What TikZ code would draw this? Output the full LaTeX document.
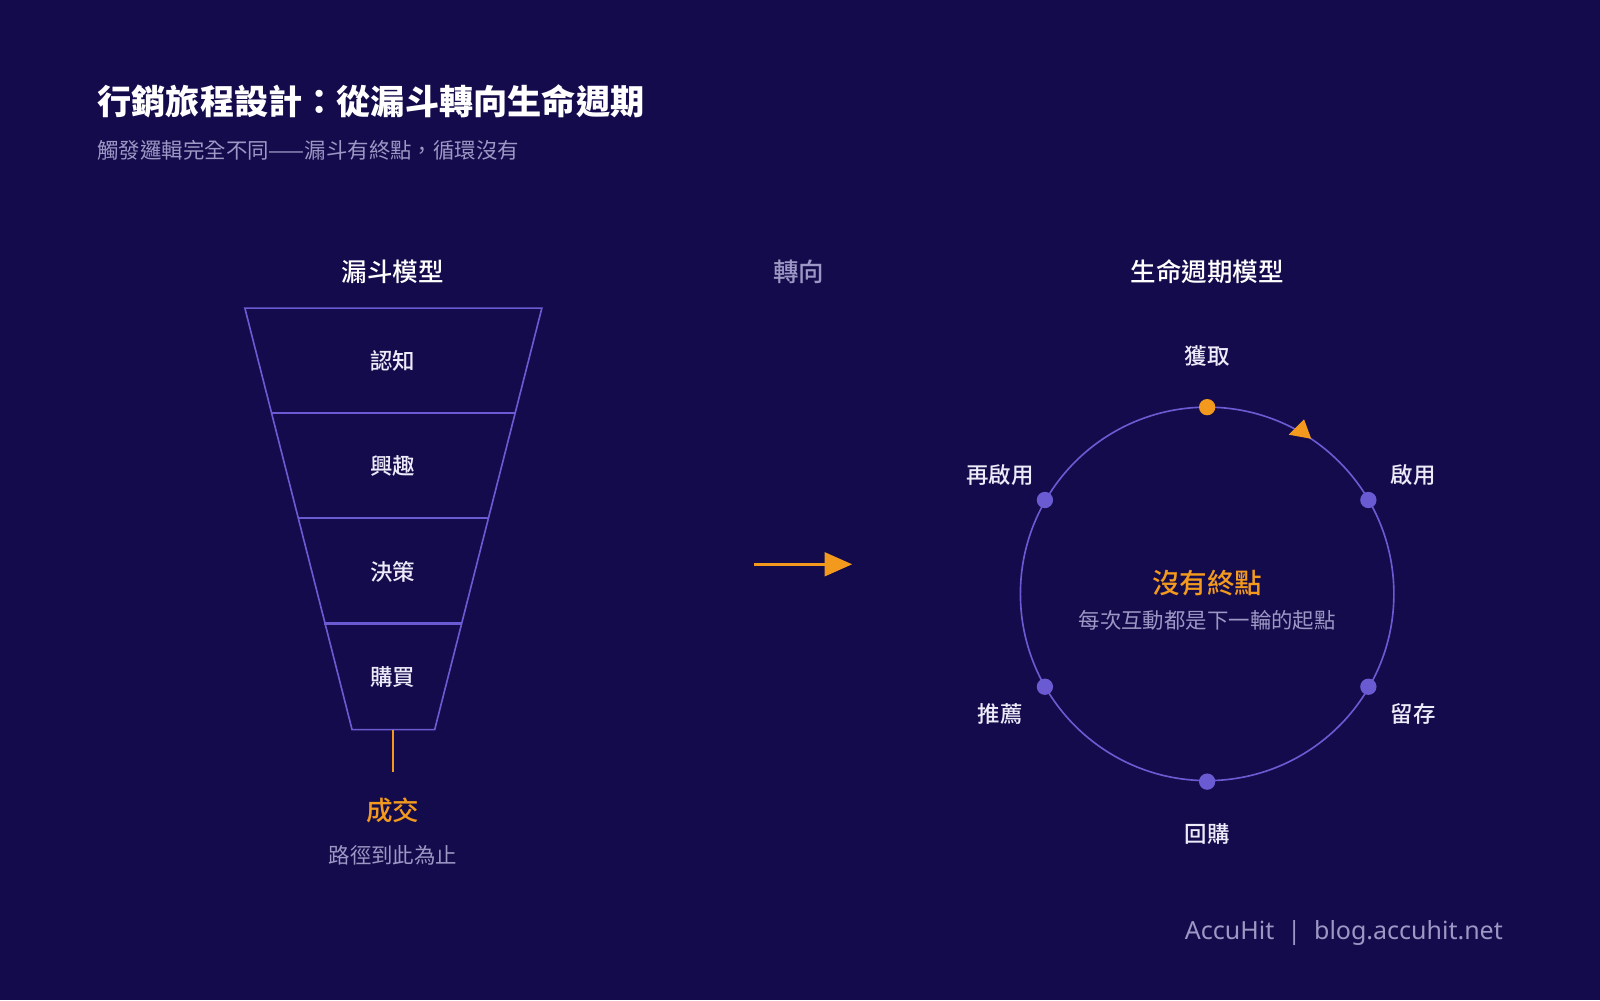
\documentclass[tikz,border=0pt]{standalone}
\usepackage{fontspec}
\setmainfont{Noto Sans CJK TC}
\newfontfamily\med{Noto Sans CJK TC Medium}
\newfontfamily\lat{Noto Sans}
\begin{document}
\begin{tikzpicture}[x=1pt,y=-1pt,
  pl/.style={draw=purp,line width=1.6pt},
  lbl/.style={text=white!88!purp,font=\med\fontsize{22}{24}\selectfont},
  dot/.style={circle,fill=purp,inner sep=0,minimum size=16pt},
  ]
\definecolor{bg}{HTML}{130B4B}
\definecolor{purp}{HTML}{6B5BD2}
\definecolor{org}{HTML}{F39A1E}
\definecolor{gry}{HTML}{9C97C4}
\fill[bg] (0,0) rectangle (1568,980);
\useasboundingbox (0,0) rectangle (1568,980);
\node[anchor=west,text=white,font=\fontsize{33.5}{35}\selectfont\bfseries] (t) at (92,99) {行銷旅程設計：從漏斗轉向生命週期};
\node[anchor=west,text=gry,font=\fontsize{21}{23}\selectfont] (s) at (92,147) {觸發邏輯完全不同——漏斗有終點，循環沒有};
\node[lbl,text=white,font=\med\fontsize{25}{27}\selectfont] (h1) at (385,266) {漏斗模型};
\node[text=gry,font=\med\fontsize{25}{27}\selectfont] (h2) at (783,266) {轉向};
\node[lbl,text=white,font=\med\fontsize{25}{27}\selectfont] (h3) at (1183,266) {生命週期模型};
% funnel
\draw[pl] (240,302) -- (531,302) -- (426,715) -- (345,715) -- cycle;
\draw[pl,line width=2.2pt] (266,405) -- (505,405);
\draw[pl,line width=2.2pt] (292,508) -- (479,508);
\draw[pl,line width=2.2pt] (318,611) -- (452,611);
\node[lbl] (f1) at (385,354) {認知};
\node[lbl] (f2) at (385,457) {興趣};
\node[lbl] (f3) at (385,560) {決策};
\node[lbl] (f4) at (385,663) {購買};
\coordinate (fb) at (385,715);
\node[text=org,font=\med\fontsize{26}{28}\selectfont] (deal) at (385,794) {成交};
\draw[org,line width=2pt] (fb) -- (385,757);
\node[text=gry,font=\fontsize{21}{23}\selectfont] (stop) at (385,838) {路徑到此為止};
% arrow
\coordinate (a1) at (739,553); \coordinate (a2) at (810,553);
\draw[org,line width=2.4pt] (a1) -- (a2);
\fill[org] (835,553) -- (808,541) -- (808,565) -- cycle;
% cycle
\coordinate (c) at (1183,582);
\draw[purp,line width=1.6pt] (c) circle (183);
\fill[org] (1285,430) -- (1263,426) -- (1278,411) -- cycle;
\node[dot,fill=org] (d1) at (1183,399) {};
\node[dot] (d2) at (1341,490) {};
\node[dot] (d3) at (1341,673) {};
\node[dot] (d4) at (1183,766) {};
\node[dot] (d5) at (1024,673) {};
\node[dot] (d6) at (1024,490) {};
\node[lbl] (l1) at (1183,349) {獲取};
\node[lbl] (l2) at (1385,466) {啟用};
\node[lbl] (l3) at (1385,700) {留存};
\node[lbl] (l4) at (1183,817) {回購};
\node[lbl] (l5) at (980,700) {推薦};
\node[lbl] (l6) at (980,466) {再啟用};
\node[text=org,font=\med\fontsize{27}{29}\selectfont] (ce) at (1183,571) {沒有終點};
\node[text=gry,font=\fontsize{21}{23}\selectfont] (cs) at (1183,608) {每次互動都是下一輪的起點};
\node[text=gry,font=\lat\fontsize{24.5}{26}\selectfont] (ft) at (1317,914) {AccuHit \ | \ blog.accuhit.net};
\end{tikzpicture}
\end{document}
